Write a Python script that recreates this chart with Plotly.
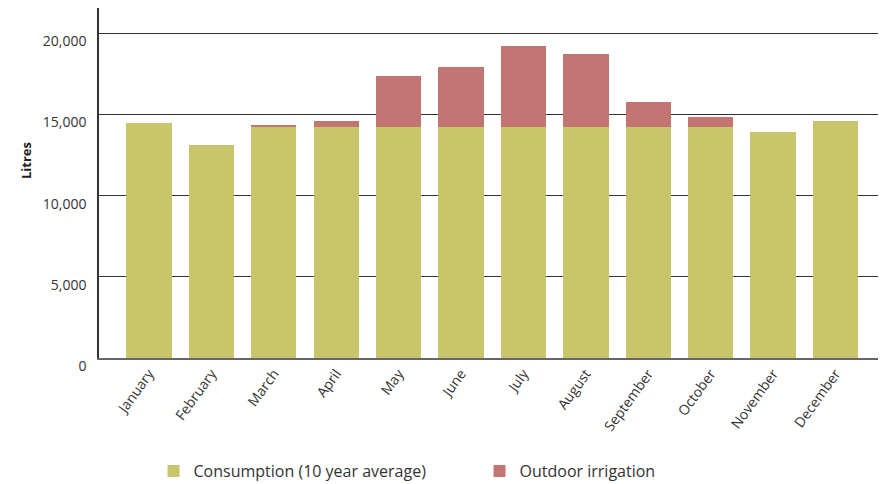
import plotly.graph_objects as go

months = ["January", "February", "March", "April", "May", "June", "July",
          "August", "September", "October", "November", "December"]
consumption = [14480, 13120, 14230, 14230, 14230, 14230, 14230, 14230, 14230, 14230, 13920, 14600]
irrigation = [0, 0, 130, 370, 3140, 3700, 4990, 4500, 1540, 620, 0, 0]
y_ticks = [0, 5000, 10000, 15000, 20000]
y_tick_text = ["0", "5,000", "10,000", "15,000", "20,000"]

GREEN = "#C8C56A"
RED = "#C27573"
FONT = "Open Sans"

fig = go.Figure()
fig.add_trace(go.Bar(x=months, y=consumption, name="Consumption (10 year average)",
                     marker=dict(color=GREEN, line=dict(width=0))))
fig.add_trace(go.Bar(x=months, y=irrigation, name="Outdoor irrigation",
                     marker=dict(color=RED, line=dict(width=0))))

fig.update_layout(
    width=888, height=484,
    barmode="stack", bargap=0.274,
    plot_bgcolor="white", paper_bgcolor="white",
    margin=dict(l=91, r=18, t=0, b=134, autoexpand=False),
    font=dict(family=FONT, color="#333333"),
    showlegend=True,
    legend=dict(orientation="h", x=0.07, xanchor="left", y=-0.323, yanchor="middle",
                font=dict(size=16, color="#333333", family=FONT),
                traceorder="normal", entrywidth=281, entrywidthmode="pixels",
                itemclick=False),
    xaxis=dict(range=[-0.8, 11.68], showline=True, linecolor="#666666", linewidth=2,
               ticks="", tickangle=-54, tickfont=dict(size=14, color="#333333"),
               showgrid=False, zeroline=False, automargin=False),
    yaxis=dict(range=[0, 21558], tickvals=y_ticks, ticktext=y_tick_text,
               showline=True, linecolor="#333333", linewidth=1.5,
               showgrid=True, gridcolor="#333333", gridwidth=1.3,
               zeroline=False, ticks="", ticklabelstandoff=8, ticklabelshift=8,
               tickfont=dict(size=14, color="#333333"), automargin=False),
    annotations=[dict(text="<b>Litres</b>", textangle=-90, xref="paper", yref="paper",
                      x=(18 - 91) / 779, y=(350 - 153) / 350, xanchor="center", yanchor="middle",
                      showarrow=False, font=dict(size=13, color="#222222", family=FONT))],
)

fig.write_html("out.html")
